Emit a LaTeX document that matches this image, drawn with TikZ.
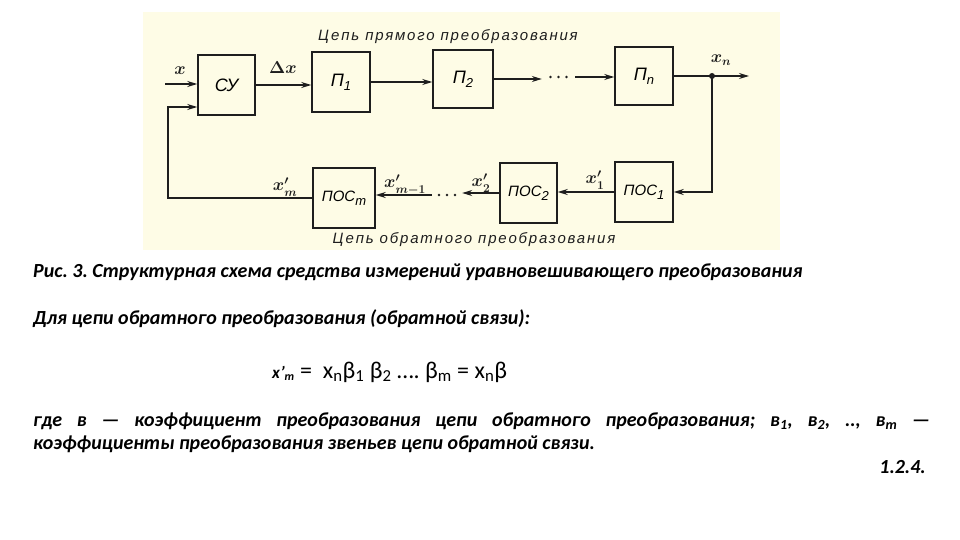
\documentclass[tikz,border=0pt]{standalone}
\usepackage{fontspec}
\setmainfont{Carlito}
\newfontfamily\dg{Liberation Sans}[LetterSpace=12]
\newfontfamily\dgb{Liberation Sans}
\usetikzlibrary{arrows.meta,calc}
\definecolor{cream}{HTML}{FEFCE6}
\definecolor{ink}{HTML}{1E1E1E}
\newcommand{\sbx}[1]{\raisebox{-4pt}{\fontsize{13}{13}\selectfont #1}}
\frenchspacing
\begin{document}
\begin{tikzpicture}[x=1pt,y=-1pt,
  blk/.style={draw=ink, line width=1.5pt, inner sep=0pt, font=\dgb\itshape\fontsize{18}{18}\selectfont},
  sblk/.style={blk, font=\dgb\itshape\fontsize{15}{15}\selectfont},
  ln/.style={line width=1.3pt, draw=ink},
  arr/.style={ln, -{Stealth[length=10pt,width=6pt]}},
  lbl/.style={font=\boldmath\fontsize{18}{18}\selectfont, inner sep=1pt, text=ink},
  ttl/.style={font=\dg\itshape\fontsize{15}{15}\selectfont, inner sep=0pt, text=ink},
  dts/.style={inner sep=0pt, minimum height=4pt},
  body/.style={inner sep=0pt, anchor=base west, font=\bfseries\itshape\fontsize{20}{23}\selectfont}]
\useasboundingbox (0,0) rectangle (960,540);
\fill[white] (0,0) rectangle (960,540);
\fill[cream] (143,12) rectangle (780,250);

% blocks
\node[blk, minimum width=57pt, minimum height=60pt] (su) at (226.5,85) {СУ};
\node[blk, minimum width=58pt, minimum height=60pt] (p1) at (341,82) {П\sbx{1}};
\node[blk, minimum width=60pt, minimum height=58pt] (p2) at (463,79) {П\sbx{2}};
\node[blk, minimum width=58pt, minimum height=58pt] (pn) at (644,76) {П\sbx{n}};
\node[sblk, minimum width=58pt, minimum height=60pt] (pos1) at (644,192) {ПОС\sbx{1}};
\node[sblk, minimum width=57pt, minimum height=60pt] (pos2) at (528.5,193) {ПОС\sbx{2}};
\node[sblk, minimum width=62pt, minimum height=60pt] (posm) at (344,198) {ПОС\sbx{m}};

% dots
\node[dts, minimum width=33pt] (dotsT) at (558.5,77) {};
\node[dts, minimum width=30pt] (dotsB) at (447,195) {};
\foreach \i in {-8,0,8} {
  \fill[ink] ($(dotsT.center)+(\i,0)$) circle (1.4pt);
  \fill[ink] ($(dotsB.center)+(\i,0)$) circle (1.4pt);
}

% coordinates
\coordinate (xin) at (165,84);
\coordinate (fbc) at (168,107);
\coordinate (fbin) at ($(su.west)+(0,22)$);
\coordinate (dot) at (712,76);
\coordinate (xout) at (749,76);

% forward chain
\draw[arr] (xin) -- (xin -| su.west);
\draw[arr] (su.east) -- (su.east -| p1.west);
\draw[arr] (p1.east) -- (p1.east -| p2.west);
\draw[arr] (p2.east) -- (p2.east -| dotsT.west);
\draw[arr] (dotsT.east) -- (dotsT.east -| pn.west);
\draw[ln] (pn.east) -- (dot);
\draw[arr] (dot) -- (xout);
\fill[ink] (dot) circle (3pt);

% feedback chain
\draw[arr] (dot) |- (pos1.east);
\draw[arr] (pos1.west) -- (pos1.west -| pos2.east);
\draw[arr] (pos2.west) -- (pos2.west -| dotsB.east);
\draw[arr] (dotsB.west) -- (dotsB.west -| posm.east);
\draw[arr] (posm.west) -| (fbc) -- (fbin);

% labels
\node[lbl] (lx) at (180,71) {$x$};
\node[lbl] (ldx) at (283,68) {$\Delta x$};
\node[lbl] (lxn) at (721,60) {$x_n$};
\node[lbl] (lx1) at (595,180) {$x'_1$};
\node[lbl] (lx2) at (481,183) {$x'_2$};
\node[lbl] (lxm1) at (405,185) {$x'_{m-1}$};
\node[lbl] (lxm) at (285,187) {$x'_m$};

\node[ttl] (t1) at (448,37) {Цепь прямого преобразования};
\node[ttl] (t2) at (474,240) {Цепь обратного преобразования};

% text below
\node[body] (cap) at (33,277) {Рис. 3. Структурная схема средства измерений уравновешивающего преобразования};
\node[body] (fb) at (33,324) {Для цепи обратного преобразования (обратной связи):};
\node[inner sep=0pt, anchor=base west, font=\fontsize{24}{27}\selectfont] (frm) at (272,378)
  {{\bfseries\itshape\fontsize{17}{17}\selectfont x'\textsubscript{m}} = \ x\textsubscript{n}β\textsubscript{1} β\textsubscript{2} …. β\textsubscript{m} = x\textsubscript{n}β};
\node[body] (w1) at (33,426) {\makebox[897pt][s]{где в — коэффициент преобразования цепи обратного преобразования; в\textsubscript{1}, в\textsubscript{2}, .., в\textsubscript{m} —}};
\node[body] (w2) at (33,449) {коэффициенты преобразования звеньев цепи обратной связи.};
\node[body, anchor=base east] (num) at (926,473) {1.2.4.};
\end{tikzpicture}
\end{document}
